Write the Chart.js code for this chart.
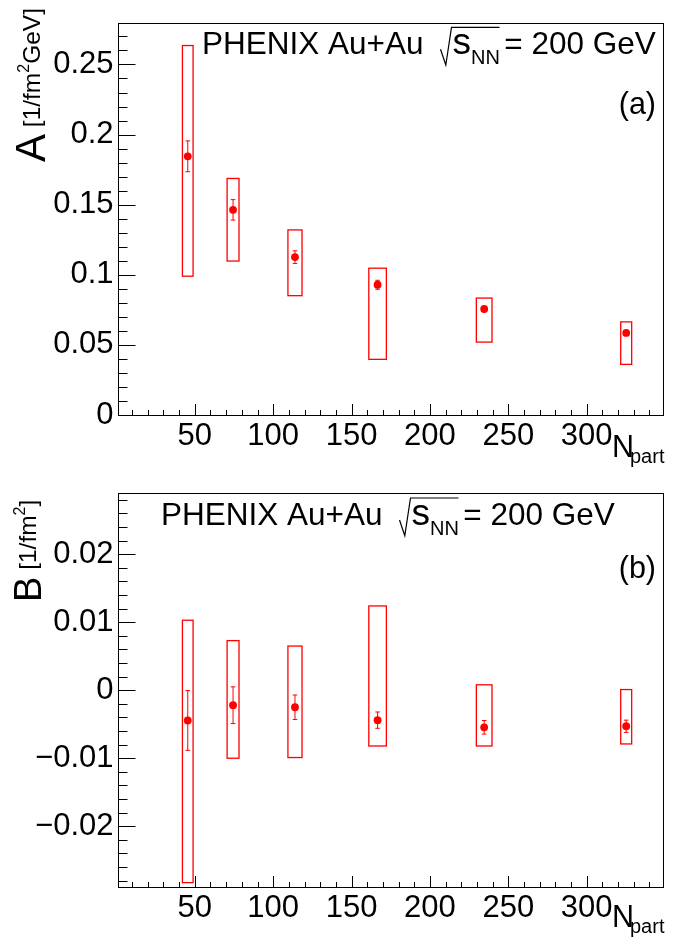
<!DOCTYPE html>
<html>
<head>
<meta charset="utf-8">
<script src="https://cdn.jsdelivr.net/npm/chart.js@4.4.1/dist/chart.umd.min.js"></script>
<style>
  html, body { margin: 0; padding: 0; background: #fff; }
  #wrap { position: relative; width: 679px; height: 937px; }
  canvas { position: absolute; left: 0; }
</style>
</head>
<body>
<div id="wrap">
  <canvas id="chartA" width="679" height="470" style="top:0px"></canvas>
  <canvas id="chartB" width="679" height="467" style="top:470px"></canvas>
</div>
<script>
// N_part per centrality bin and its systematic width
const npart = [45.5, 74.4, 113.9, 166.6, 234.6, 325.2];
const npartSys = [3.4, 3.8, 4.5, 5.6, 5.0, 3.5];

// panel (a): A
const aValues = [0.1845, 0.1463, 0.1126, 0.0929, 0.0756, 0.0585];
const aStat = [0.011, 0.0073, 0.0045, 0.0032, 0.0012, 0.0012];
const aSysLow = [0.0990, 0.1098, 0.0851, 0.0397, 0.0520, 0.0361];
const aSysHigh = [0.2635, 0.1687, 0.1320, 0.1047, 0.0834, 0.0664];

// panel (b): B
const bValues = [-0.00445, -0.0022, -0.0025, -0.0044, -0.00545, -0.0053];
const bStat = [0.0044, 0.0027, 0.0018, 0.0012, 0.0010, 0.0009];
const bSysLow = [-0.0283, -0.0100, -0.0099, -0.0082, -0.0082, -0.0079];
const bSysHigh = [0.0103, 0.0073, 0.0065, 0.0124, 0.0008, 0.0001];

// tick labels
const xTicks = [50, 100, 150, 200, 250, 300];
const yTicksA = [0, 0.05, 0.1, 0.15, 0.2, 0.25];
const yTicksB = [-0.02, -0.01, 0, 0.01, 0.02];

const FONT = '"Liberation Sans", Arial, Helvetica, sans-serif';
const RED = '#ff0000';

function txt(ctx, s, x, y, size) {
  ctx.font = size + 'px ' + FONT;
  ctx.fillText(s, x, y);
  return ctx.measureText(s).width;
}

function drawHeader(ctx, x, y) {
  ctx.fillStyle = '#000';
  ctx.textAlign = 'left';
  ctx.textBaseline = 'alphabetic';
  txt(ctx, 'PHENIX Au+Au', x, y, 31.5);
  const r0 = x + 239.5;
  ctx.strokeStyle = '#000';
  ctx.lineWidth = 1.2;
  ctx.beginPath();
  ctx.moveTo(r0 - 1, y - 5);
  ctx.lineTo(r0 + 4.3, y + 10.7);
  ctx.lineTo(r0 + 10, y - 27);
  ctx.lineTo(r0 + 58, y - 27);
  ctx.stroke();
  txt(ctx, 's', r0 + 11, y, 37);
  txt(ctx, 'NN', r0 + 29.5, y + 9.7, 20);
  txt(ctx, ' = 200 GeV', r0 + 54, y, 31.5);
}

function drawYTitle(ctx, bx, by, big, bigSize, tail) {
  ctx.save();
  ctx.translate(bx, by);
  ctx.rotate(-Math.PI / 2);
  ctx.fillStyle = '#000';
  ctx.textAlign = 'left';
  let cx = txt(ctx, big, 0, 0, bigSize);
  cx += txt(ctx, ' [1/fm', cx, -5, 24.5);
  cx += txt(ctx, '2', cx, -16, 16);
  txt(ctx, tail, cx, -5, 24.5);
  ctx.restore();
}

const phenixPlugin = {
  id: 'phenix',
  beforeDatasetsDraw(chart, args, o) {
    const ctx = chart.ctx, xs = chart.scales.x, ys = chart.scales.y;
    ctx.save();
    ctx.strokeStyle = RED;
    ctx.lineWidth = 1.3;
    // systematic boxes
    npart.forEach((n, i) => {
      const l = xs.getPixelForValue(n - npartSys[i]);
      const r = xs.getPixelForValue(n + npartSys[i]);
      const t = ys.getPixelForValue(o.sysHigh[i]);
      const b = ys.getPixelForValue(o.sysLow[i]);
      ctx.strokeRect(l, t, r - l, b - t);
    });
    // statistical error bars
    ctx.lineWidth = 1;
    npart.forEach((n, i) => {
      const px = xs.getPixelForValue(n);
      const t = ys.getPixelForValue(o.values[i] + o.stat[i]);
      const b = ys.getPixelForValue(o.values[i] - o.stat[i]);
      ctx.beginPath();
      ctx.moveTo(px, t); ctx.lineTo(px, b);
      ctx.moveTo(px - 2.3, t); ctx.lineTo(px + 2.3, t);
      ctx.moveTo(px - 2.3, b); ctx.lineTo(px + 2.3, b);
      ctx.stroke();
    });
    ctx.restore();
  },
  afterDraw(chart, args, o) {
    const ctx = chart.ctx, xs = chart.scales.x, ys = chart.scales.y;
    const a = chart.chartArea;
    const L = Math.round(a.left) + 0.5, R = Math.round(a.right) - 0.5;
    const T = Math.round(a.top) + 0.5, B = Math.round(a.bottom) + 0.5;
    ctx.save();
    ctx.strokeStyle = '#000';
    ctx.lineWidth = 1;
    ctx.strokeRect(L, T, R - L, B - T);
    ctx.beginPath();
    // x ticks
    for (let v = 10; v < xs.max; v += 10) {
      const px = Math.round(xs.getPixelForValue(v)) + 0.5;
      const len = v % 50 === 0 ? 11.5 : 5.5;
      ctx.moveTo(px, B); ctx.lineTo(px, B - len);
    }
    // y ticks
    const n = Math.round((ys.max - ys.min) / o.minor) + 2;
    for (let k = -n; k <= n; k++) {
      const v = k * o.minor;
      if (v <= ys.min || v >= ys.max) continue;
      const py = Math.round(ys.getPixelForValue(v)) + 0.5;
      const major = o.yTicks.some(t => Math.abs(t - v) < o.minor / 10);
      ctx.moveTo(L, py); ctx.lineTo(L + (major ? 17 : 9), py);
    }
    ctx.stroke();
    ctx.restore();

    ctx.save();
    drawHeader(ctx, o.headX, o.headY);
    ctx.fillStyle = '#000';
    ctx.textAlign = 'right';
    txt(ctx, o.label, 656, o.labelY, 30.5);
    ctx.textAlign = 'left';
    txt(ctx, 'N', 612, 456.7, 30.5);
    txt(ctx, 'part', 630, 462.8, 20);
    drawYTitle(ctx, o.titleX, o.titleY, o.big, o.bigSize, o.tail);
    ctx.restore();
  }
};

function fmt(v) {
  const s = String(Math.abs(v));
  return v < 0 ? '\u2212' + s : s;
}

function makeChart(id, cfg) {
  return new Chart(document.getElementById(id), {
    type: 'scatter',
    data: {
      datasets: [{
        data: npart.map((x, i) => ({ x: x, y: cfg.values[i] })),
        pointRadius: 3.9,
        pointBorderWidth: 0,
        pointBackgroundColor: RED,
        showLine: false
      }]
    },
    options: {
      responsive: false,
      animation: false,
      devicePixelRatio: 1,
      layout: { padding: { top: cfg.padTop, right: 15.5, left: 0, bottom: 0 } },
      plugins: { legend: { display: false }, tooltip: { enabled: false }, phenix: cfg },
      scales: {
        x: {
          type: 'linear', min: 1, max: 349,
          grid: { display: false, drawTicks: false },
          border: { display: false },
          afterBuildTicks: s => { s.ticks = xTicks.map(v => ({ value: v })); },
          afterFit: s => { s.height = cfg.xAxisH; },
          ticks: { padding: 3, color: '#000', font: { family: FONT, size: 31 }, maxRotation: 0, autoSkip: false }
        },
        y: {
          type: 'linear', min: cfg.yMin, max: cfg.yMax,
          grid: { display: false, drawTicks: false },
          border: { display: false },
          afterBuildTicks: s => { s.ticks = cfg.yTicks.map(v => ({ value: v })); },
          afterFit: s => { s.width = 118; },
          ticks: { padding: 4.5, color: '#000', font: { family: FONT, size: 31 }, callback: v => fmt(v) }
        }
      }
    },
    plugins: [phenixPlugin]
  });
}

makeChart('chartA', {
  values: aValues, stat: aStat, sysLow: aSysLow, sysHigh: aSysHigh,
  yMin: 0, yMax: 0.2795, yTicks: yTicksA, minor: 0.01,
  padTop: 12, xAxisH: 55,
  headX: 202, headY: 54.3, label: '(a)', labelY: 114,
  titleX: 45, titleY: 162, big: 'A', bigSize: 42, tail: 'GeV]'
});

makeChart('chartB', {
  values: bValues, stat: bStat, sysLow: bSysLow, sysHigh: bSysHigh,
  yMin: -0.0289, yMax: 0.029, yTicks: yTicksB, minor: 0.002,
  padTop: 13.3, xAxisH: 50.3,
  headX: 161, headY: 55, label: '(b)', labelY: 108,
  titleX: 41, titleY: 132, big: 'B', bigSize: 38, tail: ']'
});
</script>
</body>
</html>
